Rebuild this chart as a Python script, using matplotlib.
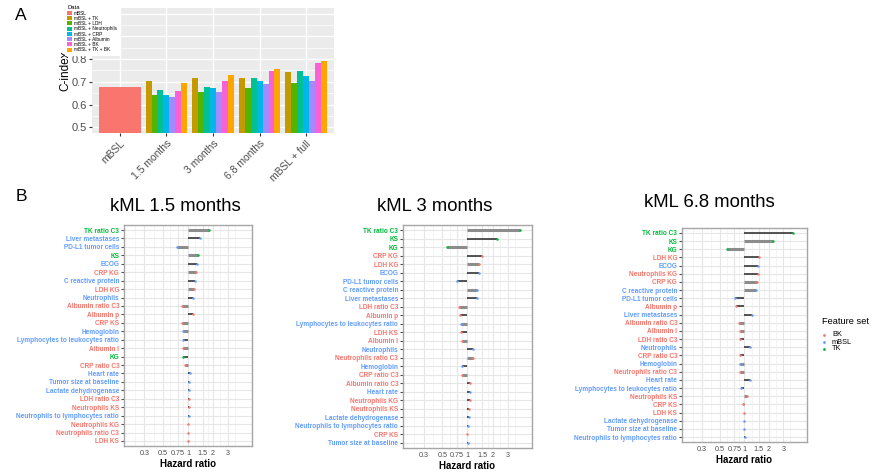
import numpy as np
import matplotlib
matplotlib.use("Agg")
import matplotlib.pyplot as plt
from matplotlib.patches import Patch
from matplotlib.lines import Line2D
from matplotlib.ticker import NullFormatter, FixedLocator

plt.rcParams['font.family'] = ['Liberation Sans', 'DejaVu Sans']

W, H = 878, 474

# ---------------- Panel A data: C-index per model ----------------
groups = ["mBSL", "1.5 months", "3 months", "6.8 months", "mBSL + full"]
models = ["mBSL", "mBSL + TK", "mBSL + LDH", "mBSL + Neutrophils", "mBSL + CRP",
          "mBSL + Albumin", "mBSL + BK", "mBSL + TK + BK"]
model_colors = ["#F8766D", "#C49A00", "#53B400", "#00C094", "#00B6EB",
                "#A58AFF", "#FB61D7", "#FFA500"]
cindex_mbsl = 0.679
cindex_15 = [0.703, 0.641, 0.662, 0.642, 0.635, 0.659, 0.693]
cindex_3 = [0.716, 0.657, 0.676, 0.671, 0.656, 0.704, 0.729]
cindex_68 = [0.716, 0.672, 0.716, 0.704, 0.691, 0.749, 0.757]
cindex_full = [0.742, 0.695, 0.749, 0.725, 0.706, 0.783, 0.792]
cindex_ticks = [0.5, 0.6, 0.7, 0.8, 0.9, 1.0]
# the two top labels sit under the legend box
cindex_tick_labels = ["0.5", "0.6", "0.7", "0.8", "", ""]

# ---------------- Panel B data: hazard ratios ----------------
feat_15 = ["TK ratio C3", "Liver metastases", "PD-L1 tumor cells", "KS", "ECOG", "CRP KG",
           "C reactive protein", "LDH KG", "Neutrophils", "Albumin ratio C3", "Albumin p",
           "CRP KS", "Hemoglobin", "Lymphocytes to leukocytes ratio", "Albumin l", "KG",
           "CRP ratio C3", "Heart rate", "Tumor size at baseline", "Lactate dehydrogenase",
           "LDH ratio C3", "Neutrophils KS", "Neutrophils to lymphocytes ratio",
           "Neutrophils KG", "Neutrophils ratio C3", "LDH KS"]
hr_15 = [1.81, 1.38, 0.73, 1.32, 1.28, 1.25, 1.21, 1.19, 1.14, 0.85, 1.14, 0.85, 0.86,
         0.86, 0.88, 0.88, 0.91, 1.06, 1.03, 1.02, 1.02, 1.02, 1.015, 1.01, 1.005, 0.99]
shade_15 = "gkggkgkgkgkggkgkgkkkkkkkkk"

feat_3 = ["TK ratio C3", "KS", "KG", "CRP KG", "LDH KG", "ECOG", "PD-L1 tumor cells",
          "C reactive protein", "Liver metastases", "LDH ratio C3", "Albumin p",
          "Lymphocytes to leukocytes ratio", "LDH KS", "Albumin l", "Neutrophils",
          "Neutrophils ratio C3", "Hemoglobin", "CRP ratio C3", "Albumin ratio C3",
          "Heart rate", "Neutrophils KG", "Neutrophils KS", "Lactate dehydrogenase",
          "Neutrophils to lymphocytes ratio", "CRP KS", "Tumor size at baseline"]
hr_3 = [4.27, 2.23, 0.575, 1.50, 1.38, 1.36, 0.755, 1.31, 1.31, 0.79, 0.81, 0.83, 0.83,
        0.85, 1.16, 1.15, 0.87, 0.87, 1.08, 1.08, 1.06, 1.05, 1.03, 1.02, 0.98, 1.01]
shade_3 = "gkgkgkkgkgkgkgkgkgkkkkkkkk"

feat_68 = ["TK ratio C3", "KS", "KG", "LDH KG", "ECOG", "Neutrophils KG", "CRP KG",
           "C reactive protein", "PD-L1 tumor cells", "Albumin p", "Liver metastases",
           "Albumin ratio C3", "Albumin l", "LDH ratio C3", "Neutrophils", "CRP ratio C3",
           "Hemoglobin", "Neutrophils ratio C3", "Heart rate",
           "Lymphocytes to leukocytes ratio", "Neutrophils KS", "CRP KS", "LDH KS",
           "Lactate dehydrogenase", "Tumor size at baseline",
           "Neutrophils to lymphocytes ratio"]
hr_68 = [3.93, 2.22, 0.61, 1.51, 1.47, 1.46, 1.42, 1.38, 0.77, 0.79, 1.23, 0.845, 0.87,
         0.87, 1.17, 0.87, 0.87, 0.87, 1.16, 0.90, 1.07, 0.96, 0.98, 0.98, 1.0, 1.01]
shade_68 = "kggkkkggkkkggkkkggkkggkkkk"

feature_set = {
    "TK ratio C3": "TK", "KS": "TK", "KG": "TK",
    "CRP KG": "BK", "LDH KG": "BK", "Albumin ratio C3": "BK", "Albumin p": "BK",
    "CRP KS": "BK", "Albumin l": "BK", "CRP ratio C3": "BK", "LDH ratio C3": "BK",
    "Neutrophils KS": "BK", "Neutrophils KG": "BK", "Neutrophils ratio C3": "BK",
    "LDH KS": "BK",
    "Liver metastases": "mBSL", "PD-L1 tumor cells": "mBSL", "ECOG": "mBSL",
    "C reactive protein": "mBSL", "Neutrophils": "mBSL", "Hemoglobin": "mBSL",
    "Lymphocytes to leukocytes ratio": "mBSL", "Heart rate": "mBSL",
    "Tumor size at baseline": "mBSL", "Lactate dehydrogenase": "mBSL",
    "Neutrophils to lymphocytes ratio": "mBSL",
}
set_names = ["BK", "mBSL", "TK"]
set_colors = {"BK": "#F8766D", "mBSL": "#619CFF", "TK": "#00BA38"}
hr_breaks = [0.3, 0.5, 0.75, 1, 1.5, 2, 3]
hr_break_labels = ["0.3", "0.5", "0.75", "1", "1.5", "2", "3"]


def box(x0, y0, x1, y1):
    return [x0 / W, 1 - y1 / H, (x1 - x0) / W, (y1 - y0) / H]


fig = plt.figure(figsize=(W / 100, H / 100), dpi=100)

# ---------------- Panel A ----------------
ax = fig.add_axes(box(92, 8, 334, 133))
ax.set_facecolor("#EBEBEB")
ngrp = len(groups)
ax.bar(0, cindex_mbsl, width=0.9, color=model_colors[0], zorder=2)
bw = 0.9 / 7
for g, vals in enumerate([cindex_15, cindex_3, cindex_68, cindex_full], start=1):
    for i, v in enumerate(vals):
        ax.bar(g - 0.45 + (i + 0.5) * bw, v, width=bw, color=model_colors[i + 1], zorder=2)
ax.set_xlim(-0.6, ngrp - 1 + 0.6)
ax.set_ylim(0.475, 1.025)
ax.set_yticks(cindex_ticks)
ax.set_yticklabels(cindex_tick_labels)
ax.set_yticks([0.55, 0.65, 0.75, 0.85, 0.95], minor=True)
ax.set_xticks(range(ngrp))
ax.set_xticklabels(groups, rotation=45, ha="right", rotation_mode="anchor",
                   fontsize=7.5, color="#4D4D4D")
ax.tick_params(axis="y", labelsize=8, labelcolor="#4D4D4D", color="#333333", length=2, pad=1.5)
ax.tick_params(axis="x", color="#333333", length=2, pad=2)
ax.tick_params(which="minor", length=0)
ax.grid(True, which="major", color="white", lw=1.0, zorder=0)
ax.grid(True, which="minor", axis="y", color="white", lw=0.5, zorder=0)
ax.set_axisbelow(True)
for s in ax.spines.values():
    s.set_visible(False)
ax.set_ylabel("C-index", fontsize=8.5, labelpad=1)
ax.yaxis.set_label_coords(-0.085, 0.5)

leg_handles = [Patch(facecolor=c, edgecolor="none") for c in model_colors]
legA = fig.legend(leg_handles, models, loc="upper left", bbox_to_anchor=(65 / W, 1 - 3 / H),
                  fontsize=3.4, title="Data", title_fontsize=4.2, frameon=True,
                  fancybox=False, edgecolor="white", facecolor="white", framealpha=1,
                  handlelength=0.9, handleheight=0.9, handletextpad=0.5,
                  labelspacing=0.05, borderpad=0.5, borderaxespad=0)
legA._legend_box.align = "left"
legA.set_zorder(10)

fig.text(21 / W, 1 - 15 / H, "A", fontsize=12.5, ha="center", va="center")
fig.text(21 / W, 1 - 197 / H, "B", fontsize=12.5, ha="center", va="center")

# ---------------- Panel B forest plots ----------------
lo, hi = 10 ** -0.769, 10 ** 0.769
logb = np.log10(hr_breaks)
ext = np.concatenate([[logb[0] - (logb[1] - logb[0])], logb,
                      [logb[-1] + (logb[-1] - logb[-2])]])
minor_pos = 10 ** ((ext[:-1] + ext[1:]) / 2)


def forest(rect, title, title_xy, feats, hrs, shades):
    a = fig.add_axes(box(*rect))
    n = len(feats)
    ys = np.arange(n)
    for y, f, h, s in zip(ys, feats, hrs, shades):
        if s == "g":
            a.hlines(y, 1, h, color="#8C8C8C", lw=2.2, zorder=3)
        else:
            a.hlines(y, 1, h, color="#262626", lw=1.1, zorder=3)
        a.plot(h, y, "o", ms=1.8, mew=0, color=set_colors[feature_set[f]], zorder=4)
    a.set_xscale("log")
    a.set_xlim(lo, hi)
    a.set_ylim(n - 1 + 0.6, -0.6)
    a.xaxis.set_major_locator(FixedLocator(hr_breaks))
    a.set_xticklabels(hr_break_labels)
    a.xaxis.set_minor_locator(FixedLocator(minor_pos))
    a.xaxis.set_minor_formatter(NullFormatter())
    a.set_yticks(ys)
    a.set_yticklabels(feats, fontsize=4.7, fontweight="bold")
    for lab, f in zip(a.get_yticklabels(), feats):
        lab.set_color(set_colors[feature_set[f]])
    a.tick_params(axis="y", length=2, color="#4D4D4D", pad=1.5)
    a.tick_params(axis="x", which="major", length=0, labelsize=5.2, labelcolor="#4D4D4D", pad=3)
    a.tick_params(axis="x", which="minor", length=0)
    a.grid(True, which="major", color="#E6E6E6", lw=0.8, zorder=0)
    a.grid(True, which="minor", axis="x", color="#F0F0F0", lw=0.5, zorder=0)
    a.set_axisbelow(True)
    for s in a.spines.values():
        s.set_color("#A6A6A6")
        s.set_linewidth(1.0)
    a.set_xlabel("Hazard ratio", fontsize=7, fontweight="bold", labelpad=1)
    fig.text(title_xy[0] / W, 1 - title_xy[1] / H, title, fontsize=13.3,
             ha="center", va="baseline")
    return a


forest((124, 225, 252, 446), "kML 1.5 months", (175, 211), feat_15, hr_15, shade_15)
forest((403, 225, 532, 448), "kML 3 months", (435, 211), feat_3, hr_3, shade_3)
forest((682, 228, 807, 442), "kML 6.8 months", (709, 207), feat_68, hr_68, shade_68)

# Feature set legend, placed by hand
fig.text(822 / W, 1 - 322 / H, "Feature set", fontsize=6.7, ha="left", va="center")
for k, s in enumerate(set_names):
    yk = 335 + 7 * k
    fig.add_artist(Line2D([824 / W], [1 - yk / H], ls="none", marker="o", ms=2, mew=0,
                          color=set_colors[s], transform=fig.transFigure))
    fig.text(832 / W, 1 - yk / H, s, fontsize=5.3, ha="left", va="center")

fig.savefig("out.png", dpi=100)
